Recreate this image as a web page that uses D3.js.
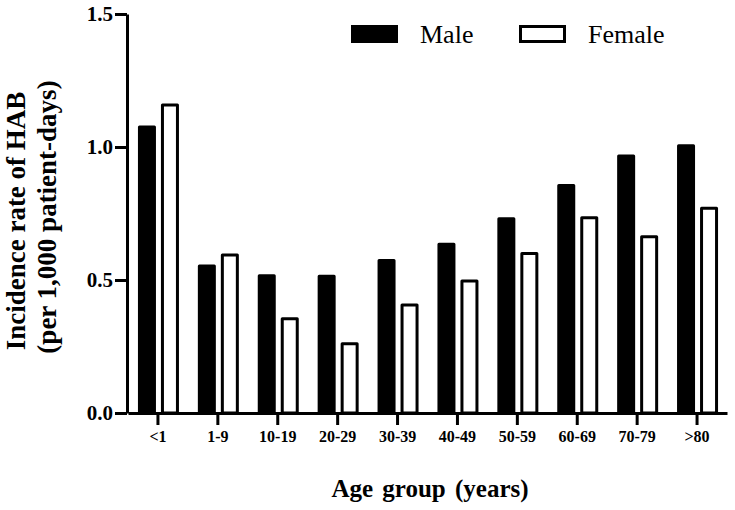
<!DOCTYPE html>
<html>
<head>
<meta charset="utf-8">
<script src="https://cdnjs.cloudflare.com/ajax/libs/d3/7.8.5/d3.min.js"></script>
<style>
  html, body { margin: 0; padding: 0; background: #fff; }
  svg { display: block; }
</style>
</head>
<body>
<svg id="chart" width="735" height="510"></svg>
<script>
const categories = ["<1", "1-9", "10-19", "20-29", "30-39", "40-49", "50-59", "60-69", "70-79", ">80"];
const series = ["Male", "Female"];
const maleValues = [1.075, 0.553, 0.516, 0.514, 0.573, 0.634, 0.730, 0.855, 0.966, 1.005];
const femaleValues = [1.158, 0.594, 0.354, 0.260, 0.406, 0.496, 0.600, 0.734, 0.663, 0.770];
const yTicks = [0, 0.5, 1.0, 1.5];

const svg = d3.select("#chart");
const serif = "'Liberation Serif', 'Times New Roman', serif";

const y = d3.scaleLinear().domain([0, 1.5]).range([413, 14]);
const x = d3.scaleBand().domain(categories).range([128, 727]).padding(0);
// bars sit in a 41px slot starting 20px left of tick centre
const inner = d3.scaleBand().domain(series).range([0, 41]).paddingInner(5 / 23).paddingOuter(0);

const rows = categories.map((c, i) => ({ c, Male: maleValues[i], Female: femaleValues[i] }));
const sw = 3;

const g = svg.append("g");
rows.forEach(r => {
  series.forEach(s => {
    const cx = x(r.c) + x.bandwidth() / 2;
    const x0 = cx - 20 + inner(s);
    g.append("rect")
      .attr("x", x0 + sw / 2)
      .attr("width", inner.bandwidth() - sw)
      .attr("y", y(r[s]))
      .attr("height", y(0) - y(r[s]))
      .attr("fill", s === "Male" ? "#000" : "#fff")
      .attr("stroke", "#000")
      .attr("stroke-width", sw)
      .attr("stroke-linejoin", "round");
  });
});

// Y axis
const yAxis = svg.append("g")
  .attr("transform", "translate(127,0)")
  .call(d3.axisLeft(y).tickValues(yTicks).tickFormat(d3.format(".1f")).tickSize(12).tickSizeOuter(0).tickPadding(2));
yAxis.select(".domain").attr("stroke", "#000").attr("stroke-width", 3);
yAxis.selectAll(".tick line").attr("stroke", "#000").attr("stroke-width", 3);
yAxis.selectAll(".tick text")
  .attr("font-family", serif).attr("font-weight", "bold").attr("font-size", "21px").attr("fill", "#000");

// X axis
const xAxis = svg.append("g")
  .attr("transform", "translate(0,413)")
  .call(d3.axisBottom(x).tickSize(12).tickSizeOuter(0).tickPadding(6));
xAxis.select(".domain").attr("stroke", "#000").attr("stroke-width", 3);
xAxis.selectAll(".tick line").attr("stroke", "#000").attr("stroke-width", 3);
xAxis.selectAll(".tick text")
  .attr("font-family", serif).attr("font-weight", "bold").attr("font-size", "16px").attr("fill", "#000");

// Axis titles
svg.append("text")
  .attr("x", 430).attr("y", 497)
  .attr("text-anchor", "middle")
  .attr("font-family", serif).attr("font-weight", "bold").attr("font-size", "25px")
  .attr("word-spacing", "3px")
  .text("Age group (years)");

svg.append("text")
  .attr("transform", "translate(25,221) rotate(-90)")
  .attr("text-anchor", "middle")
  .attr("font-family", serif).attr("font-weight", "bold").attr("font-size", "27px")
  .text("Incidence rate of HAB");
svg.append("text")
  .attr("transform", "translate(56,217) rotate(-90)")
  .attr("text-anchor", "middle")
  .attr("font-family", serif).attr("font-weight", "bold").attr("font-size", "27px")
  .text("(per 1,000 patient-days)");

// Legend
const legendItems = [
  { s: "Male", rx: 351, tx: 420 },
  { s: "Female", rx: 519, tx: 588 }
];
legendItems.forEach(l => {
  svg.append("rect")
    .attr("x", l.rx + 1.5).attr("y", 26.5)
    .attr("width", 44).attr("height", 15)
    .attr("fill", l.s === "Male" ? "#000" : "#fff")
    .attr("stroke", "#000").attr("stroke-width", 3);
  svg.append("text")
    .attr("x", l.tx).attr("y", 43)
    .attr("font-family", serif).attr("font-size", "26px").attr("fill", "#000")
    .text(l.s);
});
</script>
</body>
</html>
